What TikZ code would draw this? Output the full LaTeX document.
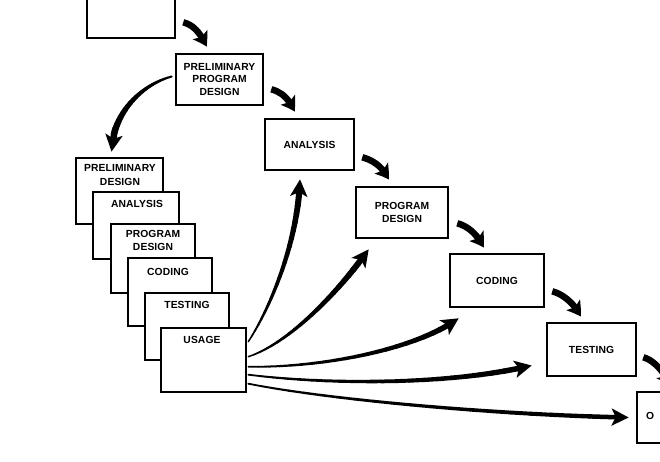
\documentclass[tikz,border=0pt]{standalone}
\usepackage{fontspec}
\newfontfamily\lblfont{Liberation Sans}[LetterSpace=1]
\usetikzlibrary{arrows.meta,bending,calc}
\tikzset{
  box/.style={draw=black, line width=2.6pt, fill=white, inner sep=0pt},
  lbl/.style={font=\lblfont\bfseries\fontsize{10.3}{12.5}\selectfont, align=center, inner sep=0pt, text=black},
  flow/.style={line width=6.5pt, -{Stealth[length=14pt,width=17pt,inset=3pt,bend]}},
}
\newcommand\mybox[5]{\node[box, minimum width={#4-#2}, minimum height={#5-#3}] (#1) at ({(#2+#4)/2},{(#3+#5)/2}) {};}
% tapered curved arrow: start, c1, c2, end, w0, w1, stop fraction
\newcommand\taperarrow[7]{%
  \path #1 .. controls #2 and #3 .. #4
    \foreach \k in {0,...,20}{ coordinate[pos=\k*#7/20] (tp\k) };
  \foreach \k [evaluate=\k as \w using #5+(#6-#5)*\k/19, evaluate=\k as \kk using int(\k+1)] in {0,...,19}
    {\draw[line width=\w, line cap=round] (tp\k) -- (tp\kk);}
  \draw[line width=#6, -{Stealth[length=17pt,width=17pt,inset=4pt]}] (tp20) -- #4;
}
\begin{document}
\begin{tikzpicture}[x=1pt,y=-1pt]
\useasboundingbox (0,0) rectangle (660,462);
\clip (0,0) rectangle (660,462);
\fill[white] (0,0) rectangle (660,462);

% main waterfall
\mybox{top}{87}{-20}{175}{38}
\mybox{ppd}{176}{54}{263}{105}
\node[lbl] (ppdT) at (ppd) {PRELIMINARY\\PROGRAM\\DESIGN};
\mybox{ana}{265}{119}{354}{170}
\node[lbl] (anaT) at (ana) {ANALYSIS};
\mybox{pd}{356}{187}{448}{238}
\node[lbl] (pdT) at (pd) {PROGRAM\\DESIGN};
\mybox{cod}{450}{254}{544}{307}
\node[lbl] (codT) at (cod) {CODING};
\mybox{tst}{547}{323}{636}{376}
\node[lbl] (tstT) at (tst) {TESTING};
\mybox{ops}{637}{392}{700}{443}
\node[lbl, anchor=west] (opsT) at (646,416) {O};

% stacked iteration
\mybox{sPre}{76}{158}{163}{224}
\node[lbl] (sPreT) at (120,175) {PRELIMINARY\\[1.5pt]DESIGN};
\mybox{sAna}{93}{192}{179}{259}
\node[lbl] (sAnaT) at (137,204) {ANALYSIS};
\mybox{sPD}{111}{224}{195}{293}
\node[lbl] (sPDT) at (153,240.5) {PROGRAM\\DESIGN};
\mybox{sCod}{128}{258}{212}{326}
\node[lbl] (sCodT) at (168,272) {CODING};
\mybox{sTst}{145}{293}{229}{360}
\node[lbl] (sTstT) at (187,305) {TESTING};
\mybox{sUse}{161}{328}{246}{392}
\node[lbl] (sUseT) at (202,340) {USAGE};

% step arrows
\draw[flow] ($(top.south east)+(7,-17)$) .. controls +(11,3) and +(-6,-13) .. ($(ppd.north west)+(32,-6)$);
\draw[flow] ($(ppd.south east)+(7,-17)$) .. controls +(11,3) and +(-6,-13) .. ($(ana.north west)+(31,-6)$);
\draw[flow] ($(ana.south east)+(7,-14)$) .. controls +(11,3) and +(-6,-13) .. ($(pd.north west)+(34,-6)$);
\draw[flow] ($(pd.south east)+(8,-16)$) .. controls +(11,3) and +(-6,-13) .. ($(cod.north west)+(35,-5)$);
\draw[flow] ($(cod.south east)+(7,-17)$) .. controls +(11,3) and +(-6,-13) .. ($(tst.north west)+(35,-5)$);
\draw[flow] ($(tst.south east)+(6,-20)$) .. controls +(11,3) and +(-6,-13) .. ($(ops.north west)+(35,-5)$);

% back to preliminary design
\taperarrow{($(ppd.west)+(-3,-3)$)}{(140,85)}{(112,115)}{($(sPre.north)+(-8,-5)$)}{2}{6.5}{0.82}

% fan from usage
\taperarrow{($(sUse.north east)+(1,15)$)}{(272,305)}{(298,240)}{($(ana.south)+(-9.5,8)$)}{1.5}{6}{0.9}
\taperarrow{($(sUse.north east)+(1,30)$)}{(290,343)}{(340,290)}{($(pd.south west)+(14,10)$)}{1.5}{6}{0.88}
\taperarrow{($(sUse.north east)+(1,40)$)}{(320,368)}{(415,350)}{($(cod.south west)+(10,10)$)}{1.6}{5.5}{0.92}
\taperarrow{($(sUse.north east)+(1,48)$)}{(330,385)}{(450,385)}{($(tst.west)+(-14,16)$)}{1.8}{5.5}{0.94}
\taperarrow{($(sUse.north east)+(1,57)$)}{(330,400)}{(500,415)}{($(ops.west)+(-7,0)$)}{1.8}{4.5}{0.95}
\end{tikzpicture}
\end{document}
